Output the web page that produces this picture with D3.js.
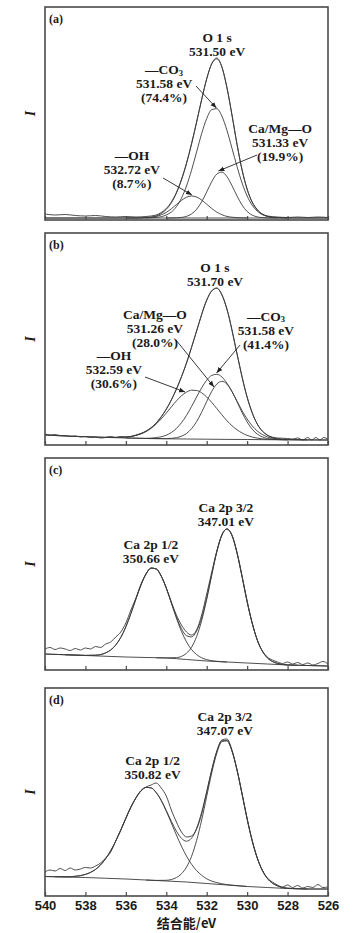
<!DOCTYPE html>
<html>
<head>
<meta charset="utf-8">
<script src="https://cdn.jsdelivr.net/npm/d3@7"></script>
<style>
body { margin: 0; background: #fff; }
svg { display: block; }
</style>
</head>
<body>
<script>
// x axis (binding energy, eV) - shared by all four panels
const xTicks = [540, 538, 536, 534, 532, 530, 528, 526]
const xTitle = '结合能/eV'
const yTitle = 'I'

// (a) O 1s
const aBg = [[540, 2], [526, 2]]
const aRaw = [[540, 6], [539.5, 5], [539, 5.5], [538.5, 4.5], [538, 4], [537.5, 4.5], [537, 3.5], [536.5, 3], [536, 3.5], [535.5, 3], [535, 3.5], [534.5, 5], [534.25, 7.5], [534, 11.5], [533.75, 18], [533.5, 27.5], [533.25, 40.5], [533, 57], [532.75, 76.5], [532.5, 98], [532.25, 120.5], [532, 141], [531.75, 156.5], [531.5, 162], [531.25, 153], [531, 132], [530.75, 105], [530.5, 75.5], [530.25, 50], [530, 31], [529.75, 18], [529.5, 10.5], [529.25, 6], [529, 4], [528.5, 3], [528, 2.5], [527.5, 3], [527, 2.5], [526.5, 3], [526, 2.5]]
const aFit = [[540, 2], [536, 2], [535.5, 2], [535, 2.4], [534.5, 4.1], [534.25, 6.5], [534, 10.6], [533.75, 17.2], [533.5, 26.9], [533.25, 40], [533, 56.4], [532.75, 75.9], [532.5, 97.8], [532.25, 120.5], [532, 141.4], [531.75, 156.3], [531.5, 161.1], [531.25, 153.1], [531, 132.7], [530.75, 105], [530.5, 75.7], [530.25, 50], [530, 30.5], [529.75, 17.7], [529.5, 10], [529.25, 5.8], [529, 3.7], [528.5, 2.3], [528, 2], [526, 2]]
const aCO3 = [[535, 2.1], [534.5, 2.6], [534.25, 3.3], [534, 5], [533.75, 8], [533.5, 13.3], [533.25, 21.8], [533, 34], [532.75, 49.8], [532.5, 68.1], [532.25, 86.4], [532, 101.5], [531.75, 110.4], [531.5, 111.3], [531.25, 103.9], [531, 89.7], [530.75, 71.8], [530.5, 53.4], [530.25, 37], [530, 24], [529.75, 14.8], [529.5, 8.9], [529.25, 5.4], [529, 3.6], [528.5, 2.3], [528, 2]]
const aCaMgO = [[534, 2], [533.5, 2.2], [533.25, 2.6], [533, 3.6], [532.75, 6.1], [532.5, 10.7], [532.25, 18.2], [532, 28.1], [531.75, 38.4], [531.5, 45.9], [531.25, 47.9], [531, 43.4], [530.75, 34.4], [530.5, 24], [530.25, 14.9], [530, 8.5], [529.75, 4.9], [529.5, 3.1], [529.25, 2.4], [529, 2.1], [528.5, 2]]
const aOH = [[536, 2], [535.5, 2], [535, 2.3], [534.5, 3.5], [534.25, 5.2], [534, 7.6], [533.75, 11.2], [533.5, 15.4], [533.25, 19.6], [533, 22.8], [532.75, 24], [532.5, 23], [532.25, 19.9], [532, 15.8], [531.75, 11.5], [531.5, 7.9], [531.25, 5.3], [531, 3.6], [530.75, 2.8], [530.5, 2.3], [530, 2]]
const aLabelPeak = ['O 1 s', '531.50 eV']
const aLabelCO3 = ['—CO3', '531.58 eV', '(74.4%)']
const aLabelCaMgO = ['Ca/Mg—O', '531.33 eV', '(19.9%)']
const aLabelOH = ['—OH', '532.72 eV', '(8.7%)']

// (b) O 1s
const bBg = [[540, 10], [539, 9], [538, 8.3], [537, 7.6], [536, 7], [535, 6.5], [534, 6.2], [533, 6], [532, 5.8], [531, 5.6], [530, 5.5], [529, 5.3], [528, 5.2], [527, 5.1], [526, 5]]
const bRaw = [[540, 11], [539.75, 10], [539.5, 10.5], [539.25, 9.5], [539, 9.5], [538.75, 8.5], [538.5, 9], [538.25, 8], [538, 8.5], [537.75, 7.5], [537.5, 8], [537.25, 7], [537, 7.5], [536.75, 8.5], [536.5, 7.5], [536.25, 8.5], [536, 8], [535.75, 8.5], [535.5, 10], [535, 14], [534.5, 22], [534, 36], [533.5, 56], [533, 82], [532.5, 114], [532, 145], [531.75, 154], [531.5, 157], [531.25, 150], [531, 136], [530.5, 91], [530, 48], [529.5, 21], [529, 10], [528.5, 7], [528, 6.5], [527.75, 6], [527.5, 7], [527.25, 5], [527, 7.5], [526.8, 5], [526.6, 7.5], [526.4, 5], [526.2, 7.5], [526, 5.5]]
const bFit = [[540, 10], [539, 9], [538, 8.3], [537, 7.7], [536.5, 7.6], [536, 7.9], [535.5, 9.6], [535, 13.7], [534.75, 17.2], [534.5, 22], [534.25, 28.2], [534, 35.7], [533.75, 44.9], [533.5, 55.7], [533.25, 68.1], [533, 82], [532.75, 97.6], [532.5, 114.1], [532.25, 130.4], [532, 144.7], [531.75, 154.3], [531.5, 156.7], [531.25, 150.5], [531, 135.8], [530.75, 115], [530.5, 91.1], [530.25, 67.6], [530, 47.6], [529.75, 32], [529.5, 21], [529.25, 14], [529, 9.7], [528.5, 6.3], [528, 5.4], [527, 5.1], [526, 5]]
const bOH = [[537, 7.7], [536.5, 7.6], [536, 7.9], [535.5, 9.6], [535, 13.5], [534.75, 16.7], [534.5, 21], [534.25, 26.1], [534, 31.9], [533.75, 38.1], [533.5, 44.1], [533.25, 49.2], [533, 52.9], [532.75, 54.8], [532.5, 54.5], [532.25, 52.2], [532, 48], [531.75, 42.6], [531.5, 36.4], [531.25, 30.2], [531, 24.3], [530.75, 19.3], [530.5, 15.2], [530.25, 12], [530, 9.6], [529.5, 6.9], [529, 5.7], [528.5, 5.4], [528, 5.2]]
const bCO3 = [[536, 7], [535, 6.7], [534.5, 7.4], [534, 9.8], [533.75, 12.5], [533.5, 16.5], [533.25, 22.3], [533, 29.6], [532.75, 38.5], [532.5, 48], [532.25, 57.2], [532, 64.8], [531.75, 69.6], [531.5, 70.7], [531.25, 68], [531, 61.8], [530.75, 53.4], [530.5, 43.8], [530.25, 34.3], [530, 26], [529.75, 19.2], [529.5, 14], [529.25, 10.5], [529, 8.1], [528.5, 6], [528, 5.4], [527, 5.1]]
const bCaMgO = [[535, 6.5], [534, 6.4], [533.5, 7.3], [533.25, 8.8], [533, 11.5], [532.75, 16.3], [532.5, 23.4], [532.25, 32.8], [532, 43.5], [531.75, 53.7], [531.5, 61], [531.25, 63.7], [531, 60.9], [530.75, 53.5], [530.5, 43.3], [530.25, 32.4], [530, 23], [529.75, 15.8], [529.5, 10.9], [529.25, 8.1], [529, 6.5], [528.5, 5.5], [528, 5.2]]
const bLabelPeak = ['O 1 s', '531.70 eV']
const bLabelCaMgO = ['Ca/Mg—O', '531.26 eV', '(28.0%)']
const bLabelCO3 = ['—CO3', '531.58 eV', '(41.4%)']
const bLabelOH = ['—OH', '532.59 eV', '(30.6%)']

// (c) Ca 2p
const cBg = [[540, 16], [538, 14.5], [536, 13], [535, 12.5], [534, 12], [533, 10.5], [532, 9], [531, 8], [530, 7], [529, 6], [528, 5], [527, 4.5], [526, 4]]
const cRaw = [[540, 21], [539.75, 22.5], [539.5, 20.5], [539.25, 22], [539, 21], [538.75, 19.5], [538.5, 21.5], [538.25, 20], [538, 22], [537.75, 21], [537.5, 23.5], [537.25, 22.5], [537, 26], [536.75, 28], [536.5, 33], [536.25, 38], [536, 47], [535.75, 60], [535.5, 72], [535.25, 86], [535, 96], [534.75, 102], [534.5, 101], [534.25, 94], [534, 82], [533.75, 68], [533.5, 55], [533.25, 45], [533, 38], [532.75, 35], [532.5, 40], [532.25, 55], [532, 76], [531.75, 98], [531.5, 119], [531.25, 135], [531, 141], [530.75, 135], [530.5, 117], [530.25, 93], [530, 68], [529.75, 47], [529.5, 30], [529.25, 19], [529, 13], [528.75, 10], [528.5, 8], [528.25, 6.5], [528, 8], [527.75, 6], [527.5, 7.5], [527.25, 5.5], [527, 7], [526.75, 5], [526.5, 6.5], [526.25, 8.5], [526, 6]]
const cFit = [[540, 16], [538.5, 14.9], [538, 14.6], [537.5, 14.8], [537, 17.1], [536.75, 20], [536.5, 25], [536.25, 32.6], [536, 43.2], [535.75, 56.5], [535.5, 71.2], [535.25, 85.1], [535, 96.1], [534.75, 101.9], [534.5, 101.1], [534.25, 93.9], [534, 82], [533.75, 67.4], [533.5, 53.1], [533.25, 41.4], [533, 34.3], [532.75, 33.1], [532.5, 39], [532.25, 52.2], [532, 72], [531.75, 95.7], [531.5, 118.4], [531.25, 135], [531, 141], [530.75, 134.5], [530.5, 117.2], [530.25, 93.6], [530, 68.7], [529.75, 46.8], [529.5, 30.1], [529.25, 19], [529, 12.2], [528.75, 8.5], [528.5, 6.6], [528, 5.1], [527, 4.5], [526, 4]]
const cP12 = [[539, 15.2], [538.5, 14.9], [538, 14.6], [537.5, 14.8], [537, 17.1], [536.75, 20], [536.5, 25], [536.25, 32.6], [536, 43.2], [535.75, 56.5], [535.5, 71.2], [535.25, 85.1], [535, 96.1], [534.75, 101.9], [534.5, 101.1], [534.25, 93.9], [534, 81.9], [533.75, 67], [533.5, 52], [533.25, 38.7], [533, 28.1], [532.75, 20.4], [532.5, 15.4], [532.25, 12.2], [532, 10.3], [531.5, 8.7], [531, 8]]
const cP32 = [[534.5, 12.25], [534, 12.1], [533.5, 12.35], [533.25, 13.6], [533, 16.7], [532.75, 22.8], [532.5, 33.4], [532.25, 49.4], [532, 70.7], [531.75, 95.1], [531.5, 118.2], [531.25, 135], [531, 141], [530.75, 134.5], [530.5, 117.2], [530.25, 93.6], [530, 68.7], [529.75, 46.8], [529.5, 30.1], [529.25, 19], [529, 12.2], [528.75, 8.5], [528.5, 6.6], [528, 5.1], [527.5, 4.75]]
const cLabel32 = ['Ca 2p 3/2', '347.01 eV']
const cLabel12 = ['Ca 2p 1/2', '350.66 eV']

// (d) Ca 2p
const dBg = [[540, 19.5], [539, 19], [538, 18.5], [537, 17.75], [536, 17], [535, 16], [534, 15], [533, 14], [532, 12.5], [531, 11], [530, 9.5], [529, 8.5], [528, 7.5], [527, 7], [526, 7]]
const dRaw = [[540, 24], [539.75, 26], [539.5, 25], [539.25, 27.5], [539, 25.5], [538.75, 28], [538.5, 26], [538.25, 27], [538, 28.5], [537.75, 28], [537.5, 30], [537.25, 33], [537, 38], [536.75, 44], [536.5, 55], [536.25, 66], [536, 78], [535.75, 89], [535.5, 98], [535.25, 105], [535, 109], [534.75, 111], [534.5, 113], [534.25, 108], [534, 100], [533.75, 86], [533.5, 74], [533.25, 64], [533, 59], [532.75, 60], [532.5, 67], [532.25, 82], [532, 104], [531.75, 126], [531.5, 145], [531.25, 156], [531, 157], [530.75, 146], [530.5, 126], [530.25, 102], [530, 77], [529.75, 55], [529.5, 38], [529.25, 26], [529, 18], [528.75, 14], [528.5, 11], [528.25, 9], [528, 11], [527.75, 8.5], [527.5, 10.5], [527.25, 8], [527, 9.5], [526.75, 8.5], [526.5, 11.5], [526.25, 8.5], [526, 9]]
const dFit = [[540, 19.5], [539.5, 19.3], [539, 19.2], [538.5, 19.7], [538, 21.6], [537.75, 23.6], [537.5, 26.6], [537.25, 31.1], [537, 37.3], [536.75, 45.3], [536.5, 55], [536.25, 66], [536, 77.6], [535.75, 88.9], [535.5, 98.3], [535.25, 105.4], [535, 108.6], [534.75, 108.1], [534.5, 103.5], [534.25, 95.7], [534, 85.5], [533.75, 74.7], [533.5, 64.9], [533.25, 57.7], [533, 54.8], [532.75, 57.8], [532.5, 67.6], [532.25, 83.8], [532, 104.3], [531.75, 126.1], [531.5, 144.5], [531.25, 155.2], [531, 155.5], [530.75, 145.1], [530.5, 126], [530.25, 102], [530, 77.2], [529.75, 55.4], [529.5, 38], [529.25, 25.6], [529, 17.6], [528.75, 12.8], [528.5, 10.1], [528, 7.8], [527.5, 7.3], [527, 7], [526, 7]]
const dP12 = [[539.5, 19.25], [539, 19.2], [538.5, 19.7], [538, 21.6], [537.75, 23.6], [537.5, 26.6], [537.25, 31.1], [537, 37.3], [536.75, 45.3], [536.5, 55], [536.25, 66], [536, 77.6], [535.75, 88.9], [535.5, 98.3], [535.25, 105.4], [535, 108.6], [534.75, 108.1], [534.5, 103.4], [534.25, 95.4], [534, 84.8], [533.75, 73], [533.5, 61], [533.25, 49.8], [533, 39.9], [532.75, 31.7], [532.5, 25.4], [532.25, 20.7], [532, 17.2], [531.75, 14.9], [531.5, 13.4], [531, 11.4], [530.5, 10.4], [530, 9.5]]
const dP32 = [[535, 16], [534.5, 15.6], [534, 15.7], [533.75, 16.5], [533.5, 18.4], [533.25, 22.2], [533, 28.9], [532.75, 39.7], [532.5, 55.5], [532.25, 76], [532, 99.6], [531.75, 123.3], [531.5, 142.9], [531.25, 154.4], [531, 155.1], [530.75, 144.9], [530.5, 125.9], [530.25, 102], [530, 77.2], [529.75, 55.4], [529.5, 38], [529.25, 25.6], [529, 17.6], [528.75, 12.8], [528.5, 10.1], [528, 7.8], [527.5, 7.3], [527, 7]]
const dLabel32 = ['Ca 2p 3/2', '347.07 eV']
const dLabel12 = ['Ca 2p 1/2', '350.82 eV']

let w = 360
let h = 933
let left = 45
let right = 328
let serif = '"Liberation Serif", "DejaVu Serif", serif'
let lineColor = '#3a3a3a'

let svg = d3.select('body').append('svg').attr('width', w).attr('height', h)

svg.append('defs').append('marker')
  .attr('id', 'arrow')
  .attr('viewBox', '0 0 10 10')
  .attr('refX', 10).attr('refY', 5)
  .attr('markerWidth', 6).attr('markerHeight', 6)
  .attr('markerUnits', 'userSpaceOnUse')
  .attr('orient', 'auto')
  .append('path').attr('d', 'M0,1L10,5L0,9z').attr('fill', '#222')

let x = d3.scaleLinear().domain([540, 526]).range([left, right])

let panels = [
  { tag: '(a)', top: 7, bottom: 220, curves: [aBg, aOH, aCaMgO, aCO3, aFit, aRaw],
    labels: [
      { lines: aLabelPeak, at: [531.49, 178] },
      { lines: aLabelCO3, at: [534.11, 146], arrow: [[532.53, 134], [531.52, 112]] },
      { lines: aLabelCaMgO, at: [528.37, 87], arrow: [[529.51, 65], [531.42, 49]] },
      { lines: aLabelOH, at: [535.70, 60], arrow: [[534.16, 42], [532.73, 25]] }
    ] },
  { tag: '(b)', top: 233, bottom: 445, curves: [bBg, bOH, bCaMgO, bCO3, bFit, bRaw],
    labels: [
      { lines: bLabelPeak, at: [531.59, 173] },
      { lines: bLabelCaMgO, at: [534.56, 125.7], arrow: [[533.52, 105], [531.64, 58]] },
      { lines: bLabelCO3, at: [529.07, 124.3], arrow: [[530.35, 100], [531.51, 72]] },
      { lines: bLabelOH, at: [536.59, 85], arrow: [[535.05, 68], [533.07, 53]] }
    ] },
  { tag: '(c)', top: 458, bottom: 670, curves: [cBg, cP12, cP32, cFit, cRaw],
    labels: [
      { lines: cLabel32, at: [531.05, 158] },
      { lines: cLabel12, at: [534.76, 121] }
    ] },
  { tag: '(d)', top: 688, bottom: 896, curves: [dBg, dP12, dP32, dFit, dRaw], tickLabels: true,
    labels: [
      { lines: dLabel32, at: [531.1, 175] },
      { lines: dLabel12, at: [534.68, 131] }
    ] }
]

panels.forEach(p => {
  let y = d3.scaleLinear().domain([0, p.bottom - p.top]).range([p.bottom, p.top])
  let g = svg.append('g')

  let clipId = 'clip' + p.tag.replace(/\W/g, '')
  g.append('clipPath').attr('id', clipId).append('rect')
    .attr('x', left).attr('y', p.top).attr('width', right - left).attr('height', p.bottom - p.top)

  let line = d3.line().x(d => x(d[0])).y(d => y(d[1])).curve(d3.curveMonotoneX)

  g.append('g').attr('clip-path', 'url(#' + clipId + ')')
    .selectAll('path')
    .data(p.curves)
    .enter()
    .append('path')
    .attr('d', line)
    .attr('fill', 'none')
    .attr('stroke', lineColor)
    .attr('stroke-width', 0.9)

  // frame
  g.append('rect')
    .attr('x', left).attr('y', p.top)
    .attr('width', right - left).attr('height', p.bottom - p.top)
    .attr('fill', 'none').attr('stroke', '#4a4a4a').attr('stroke-width', 1.6)

  // inward ticks on the bottom edge
  let axis = d3.axisBottom(x).tickValues(xTicks).tickSize(-4).tickSizeOuter(0).tickPadding(5)
  if (!p.tickLabels) axis.tickFormat('')
  let ax = g.append('g').attr('transform', 'translate(0,' + p.bottom + ')').call(axis)
  ax.select('.domain').remove()
  ax.selectAll('line').attr('stroke', '#4a4a4a').attr('stroke-width', 1.2)
  ax.selectAll('text')
    .attr('fill', '#1a1a1a')
    .attr('font-family', '"Liberation Sans", Arial, sans-serif')
    .attr('font-weight', 'bold')
    .attr('font-size', 13)

  // panel tag
  g.append('text').attr('x', 49).attr('y', p.top + 16)
    .attr('font-family', serif).attr('font-weight', 'bold').attr('font-size', 12)
    .attr('fill', '#1a1a1a').text(p.tag)

  // y title
  g.append('text')
    .attr('transform', 'translate(35,' + (p.top + p.bottom) / 2 + ') rotate(-90)')
    .attr('text-anchor', 'middle')
    .attr('font-family', serif).attr('font-style', 'italic').attr('font-weight', 'bold')
    .attr('font-size', 14).attr('fill', '#1a1a1a')
    .text(yTitle)

  // annotations, one text per line
  p.labels.forEach(l => {
    l.lines.forEach((s, i) => {
      let t = g.append('text')
        .attr('x', x(l.at[0])).attr('y', y(l.at[1]) + i * 14)
        .attr('text-anchor', 'middle')
        .attr('font-family', serif).attr('font-weight', 'bold')
        .attr('font-size', 13.5).attr('fill', '#1a1a1a')
      let m = s.match(/^(.*CO)(3)$/)
      if (m) {
        t.append('tspan').text(m[1])
        t.append('tspan').attr('font-size', 8.5).attr('dy', 1.5).text(m[2])
      } else {
        t.text(s)
      }
    })
    if (l.arrow) {
      g.append('line')
        .attr('x1', x(l.arrow[0][0])).attr('y1', y(l.arrow[0][1]))
        .attr('x2', x(l.arrow[1][0])).attr('y2', y(l.arrow[1][1]))
        .attr('stroke', '#222').attr('stroke-width', 0.9)
        .attr('marker-end', 'url(#arrow)')
    }
  })

  if (p.tickLabels) {
    g.append('text')
      .attr('x', (left + right) / 2).attr('y', p.bottom + 32)
      .attr('text-anchor', 'middle')
      .attr('font-family', '"Noto Sans CJK SC", "Liberation Sans", sans-serif')
      .attr('font-weight', 'bold').attr('font-size', 13).attr('fill', '#1a1a1a')
      .text(xTitle)
  }
})
</script>
</body>
</html>
